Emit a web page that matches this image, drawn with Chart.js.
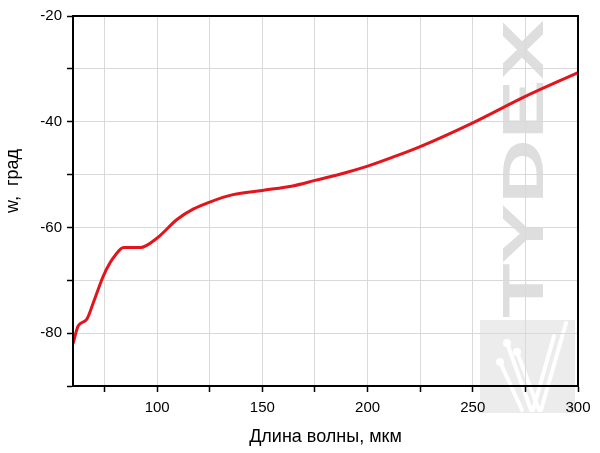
<!DOCTYPE html>
<html>
<head>
<meta charset="utf-8">
<script src="https://cdn.jsdelivr.net/npm/chart.js@4.4.1/dist/chart.umd.min.js"></script>
<style>
    html, body { margin: 0; padding: 0; background: #fff; }
    #wrap { width: 600px; height: 453px; position: relative; }
</style>
</head>
<body>
<div id="wrap"><canvas id="phase-chart" width="600" height="453"></canvas></div>
<script>
// Phase vs wavelength
const wavelength = [60, 62.5, 66.5, 69.7, 74.4, 77.6, 80, 84, 92, 100, 109.4, 117.3, 125, 136, 150, 165, 175, 189, 200, 212, 225, 250, 275, 300];
const phase = [-82, -78.6, -77.4, -74.2, -69.2, -66.7, -65.3, -63.8, -63.8, -62, -58.5, -56.5, -55.2, -53.8, -53.0, -52.1, -51.1, -49.7, -48.4, -46.7, -44.7, -40.2, -35.2, -30.7];

const xTickValues = [75, 100, 125, 150, 175, 200, 225, 250, 275, 300];
const xTickLabels = ['', '100', '', '150', '', '200', '', '250', '', '300'];
const yTickValues = [-90, -80, -70, -60, -50, -40, -30, -20];
const yTickLabels = ['', '-80', '', '-60', '', '-40', '', '-20'];

const FONT = '"Liberation Sans", Arial, sans-serif';

// watermark behind the grid, frame and y title on top
const decor = {
    id: 'decor',
    beforeDraw(chart) {
        const ctx = chart.ctx;
        ctx.save();
        // logo box
        ctx.fillStyle = '#ececec';
        ctx.fillRect(480, 320, 95, 93);
        ctx.strokeStyle = '#ffffff';
        ctx.fillStyle = '#ffffff';
        ctx.lineWidth = 4;
        ctx.lineCap = 'round';
        const strokes = [
            [[507, 343], [531, 410]],
            [[517, 352], [539, 410]],
            [[500, 362], [522, 410]],
            [[566, 323], [541, 410]],
            [[554, 336], [533, 410]]
        ];
        strokes.forEach(s => {
            ctx.beginPath();
            ctx.moveTo(s[0][0], s[0][1]);
            ctx.lineTo(s[1][0], s[1][1]);
            ctx.stroke();
        });
        [[507, 343], [517, 352], [500, 362]].forEach(p => {
            ctx.beginPath();
            ctx.arc(p[0], p[1], 4, 0, Math.PI * 2);
            ctx.fill();
        });
        // TYDEX text, reading bottom to top, stretched along its length
        ctx.font = 'bold 58px ' + FONT;
        const w = ctx.measureText('TYDEX').width;
        ctx.translate(524, 169);
        ctx.rotate(-Math.PI / 2);
        ctx.scale(298 / w, 1);
        ctx.fillStyle = '#dedede';
        ctx.textAlign = 'center';
        ctx.textBaseline = 'middle';
        ctx.fillText('TYDEX', 0, 3);
        ctx.restore();
    },
    afterDraw(chart) {
        const a = chart.chartArea;
        const ctx = chart.ctx;
        ctx.save();
        ctx.strokeStyle = '#000';
        ctx.lineWidth = 2;
        ctx.strokeRect(a.left, a.top, a.right - a.left, a.bottom - a.top);
        // y axis title
        ctx.translate(13, 181);
        ctx.rotate(-Math.PI / 2);
        ctx.fillStyle = '#000';
        ctx.font = '18px ' + FONT;
        ctx.textAlign = 'center';
        ctx.textBaseline = 'middle';
        ctx.fillText('w,  град', 0, 0);
        ctx.restore();
    }
};

new Chart(document.getElementById('phase-chart'), {
    type: 'line',
    data: {
        datasets: [{
            data: wavelength.map((w, i) => ({ x: w, y: phase[i] })),
            borderColor: '#e3141b',
            borderWidth: 3,
            pointRadius: 0,
            fill: false,
            cubicInterpolationMode: 'monotone'
        }]
    },
    options: {
        responsive: false,
        animation: false,
        devicePixelRatio: 1,
        layout: { padding: { top: 16, right: 22, left: 0, bottom: 0 } },
        plugins: {
            legend: { display: false },
            tooltip: { enabled: false }
        },
        scales: {
            x: {
                type: 'linear',
                min: 60,
                max: 300,
                afterBuildTicks: scale => {
                    scale.ticks = xTickValues.map(v => ({ value: v }));
                },
                afterFit: scale => { scale.height = 67; },
                ticks: {
                    color: '#000',
                    font: { family: FONT, size: 15 },
                    padding: 7,
                    maxRotation: 0,
                    autoSkip: false,
                    callback: (v, i) => xTickLabels[i]
                },
                grid: {
                    color: '#d9d9d9',
                    lineWidth: 1,
                    tickColor: '#000',
                    tickLength: 6,
                    tickWidth: 1.5
                },
                border: { color: '#000', width: 2 },
                title: {
                    display: true,
                    text: 'Длина волны, мкм',
                    color: '#000',
                    font: { family: FONT, size: 18 },
                    padding: { top: 0, bottom: 5 }
                }
            },
            y: {
                min: -90,
                max: -20,
                afterBuildTicks: scale => {
                    scale.ticks = yTickValues.map(v => ({ value: v }));
                },
                afterFit: scale => { scale.width = 73; },
                ticks: {
                    color: '#000',
                    font: { family: FONT, size: 15 },
                    padding: 5,
                    autoSkip: false,
                    callback: (v, i) => yTickLabels[i]
                },
                grid: {
                    color: '#d9d9d9',
                    lineWidth: 1,
                    tickColor: '#000',
                    tickLength: 6,
                    tickWidth: 1.5
                },
                border: { color: '#000', width: 2 }
            }
        }
    },
    plugins: [decor]
});
</script>
</body>
</html>
